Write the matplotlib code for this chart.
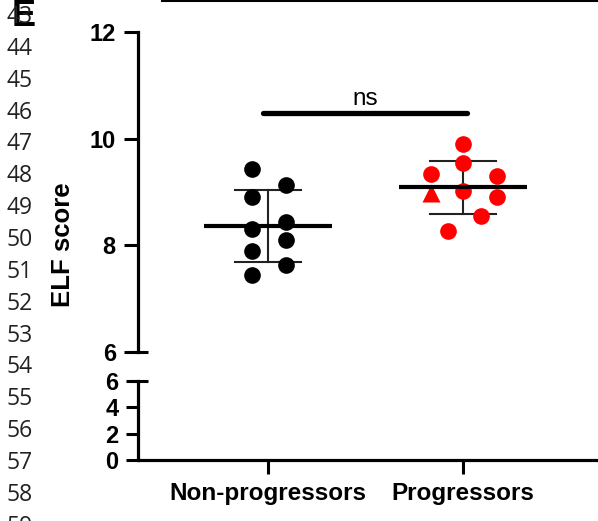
import numpy as np
import matplotlib
matplotlib.use("Agg")
import matplotlib.pyplot as plt
from matplotlib.lines import Line2D

# ---- data ----
categories = ["Non-progressors", "Progressors"]
nonprog_values = [9.43, 9.13, 8.90, 8.30, 8.44, 8.10, 7.89, 7.63, 7.44]
nonprog_offsets = [-0.082, 0.092, -0.082, -0.082, 0.092, 0.092, -0.082, 0.092, -0.082]
prog_values = [9.90, 9.54, 9.34, 9.30, 8.98, 9.02, 8.90, 8.55, 8.27]
prog_offsets = [0.0, 0.0, -0.164, 0.174, -0.164, 0.0, 0.174, 0.092, -0.077]
prog_markers = ["o", "o", "o", "o", "^", "o", "o", "o", "o"]
top_ticks = [6, 8, 10, 12]
bottom_ticks = [0, 2, 4, 6]
sig_label = "ns"
sig_y = 10.48
line_numbers = list(range(43, 60))

W, H = 598, 521
fig = plt.figure(figsize=(W / 100, H / 100), dpi=100)
font = "Liberation Sans"

x0, x_right = 138, 598
xlim = (-0.667, 1.692)

def fx(px):
    return px / W

def fy(py):
    return 1 - py / H

ax_top = fig.add_axes([fx(x0), fy(352), fx(x_right - x0), (352 - 32) / H])
ax_bot = fig.add_axes([fx(x0), fy(460), fx(x_right - x0), (460 - 381) / H])

for ax in (ax_top, ax_bot):
    ax.set_xlim(*xlim)
    ax.patch.set_alpha(0)
    for s in ("top", "right"):
        ax.spines[s].set_visible(False)
    ax.spines["left"].set_linewidth(2.3)
    ax.tick_params(axis="y", width=2.2, labelsize=16)

ax_top.set_ylim(6, 12)
ax_top.spines["bottom"].set_visible(False)
ax_top.set_xticks([])
ax_top.set_yticks(top_ticks)
ax_top.set_yticklabels([str(t) for t in top_ticks], fontsize=17, fontweight="bold", family=font)
ax_top.tick_params(axis="y", length=10, pad=6)

ax_bot.set_ylim(0, 6)
ax_bot.set_yticks(bottom_ticks)
ax_bot.set_yticklabels([str(t) for t in bottom_ticks], fontsize=17, fontweight="bold", family=font)
ax_bot.tick_params(axis="y", length=9, pad=5)
ax_bot.spines["bottom"].set_linewidth(2.3)
ax_bot.set_xticks([0, 1])
ax_bot.set_xticklabels(categories, fontsize=17.5, fontweight="bold", family=font)
ax_bot.tick_params(axis="x", length=10, width=2.2, pad=6)

# break caps (T shapes at y=6 on both axes)
for ax in (ax_top, ax_bot):
    ax.plot([-0.017, 0.022], [6, 6], color="black", lw=2.2,
            transform=ax.get_yaxis_transform(), clip_on=False, solid_capstyle="butt")

# data points
ms = 12
xs = [0 + o for o in nonprog_offsets]
ax_top.plot(xs, nonprog_values, "o", color="black", ms=ms, mec="none", zorder=3)
for v, o, m in zip(prog_values, prog_offsets, prog_markers):
    ax_top.plot([1 + o], [v], m, color="red", ms=ms if m == "o" else ms + 1, mec="none", zorder=3)

# mean +/- SD
for i, vals in enumerate([nonprog_values, prog_values]):
    mu = np.mean(vals)
    sd = np.std(vals, ddof=1)
    ax_top.plot([i - 0.328, i + 0.328], [mu, mu], color="black", lw=3, zorder=4, solid_capstyle="butt")
    ax_top.plot([i, i], [mu - sd, mu + sd], color="#222222", lw=1.5, zorder=2)
    for y in (mu - sd, mu + sd):
        ax_top.plot([i - 0.17, i + 0.17], [y, y], color="#222222", lw=1.5, zorder=2)

# significance bracket
ax_top.plot([-0.026, 1.02], [sig_y, sig_y], color="black", lw=3.8, solid_capstyle="round", zorder=4)
ax_top.text(0.497, sig_y + 0.15, sig_label, ha="center", va="baseline", fontsize=17.5, family=font)

# y label
fig.text(fx(63), fy(245), "ELF score", rotation=90, ha="center", va="center",
         fontsize=18.5, fontweight="bold", family=font)

# panel letter
fig.text(fx(12), fy(26), "E", ha="left", va="baseline", fontsize=26, fontweight="bold", family=font)

# manuscript line numbers
for k, n in enumerate(line_numbers):
    fig.text(fx(7), fy(17 + k * 31.85), str(n), ha="left", va="center",
             fontsize=16.5, family="Open Sans", color="#222222")

# top rule line
fig.add_artist(Line2D([fx(162), 1.0], [fy(0.8), fy(0.8)], color="black", lw=1.5,
                      transform=fig.transFigure))

fig.savefig("out.png", dpi=100)
